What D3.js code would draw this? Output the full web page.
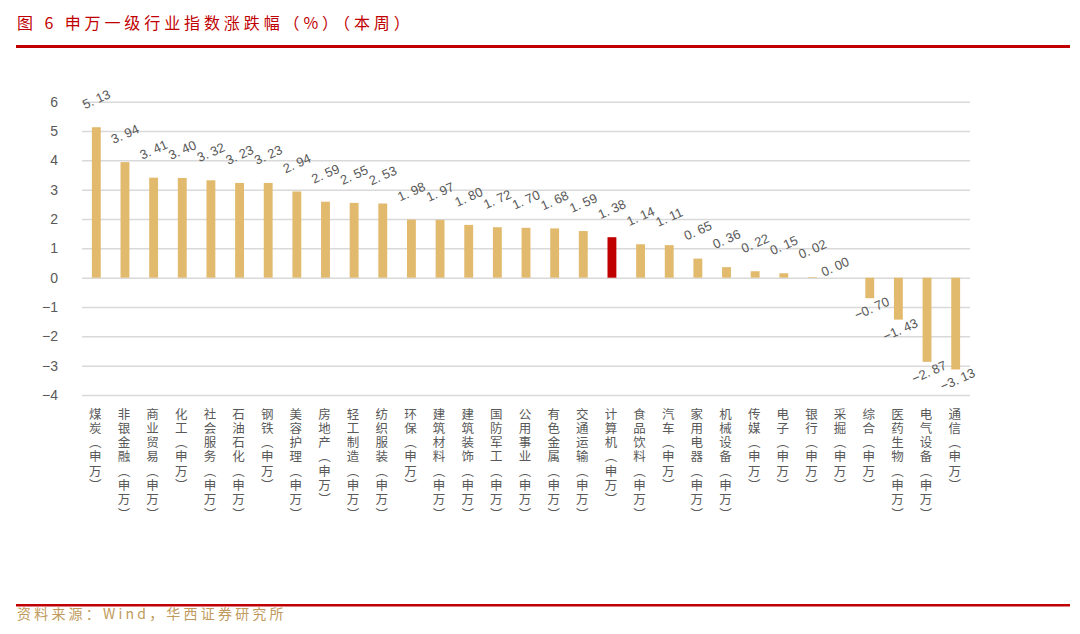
<!DOCTYPE html>
<html><head><meta charset="utf-8">
<script src="https://cdn.jsdelivr.net/npm/d3@7"></script>
<style>
html,body{margin:0;padding:0;background:#fff;}
svg{display:block;}
</style></head>
<body>
<svg id="c" width="1080" height="634"></svg>
<script>
const categories = ["煤炭","非银金融","商业贸易","化工","社会服务","石油石化","钢铁","美容护理","房地产","轻工制造","纺织服装","环保","建筑材料","建筑装饰","国防军工","公用事业","有色金属","交通运输","计算机","食品饮料","汽车","家用电器","机械设备","传媒","电子","银行","采掘","综合","医药生物","电气设备","通信"];
const values = [5.13,3.94,3.41,3.40,3.32,3.23,3.23,2.94,2.59,2.55,2.53,1.98,1.97,1.80,1.72,1.70,1.68,1.59,1.38,1.14,1.11,0.65,0.36,0.22,0.15,0.02,0.00,-0.70,-1.43,-2.87,-3.13];
const highlight = "计算机";
const yTicks = [-4,-3,-2,-1,0,1,2,3,4,5,6];
const suffix = "︵申万︶";
const titleText = "图 6 申万一级行业指数涨跌幅（%）（本周）";
const sourceText = "资料来源：Wind，华西证券研究所";

const svg = d3.select("#c");
const x = d3.scaleBand().domain(categories).range([82, 970]).paddingInner(0.69).paddingOuter(0.345);
const y = d3.scaleLinear().domain([-4, 6]).range([395, 101.7]);
const data = categories.map((c, i) => ({c, v: values[i]}));

// title
svg.append("text").attr("x", 17).attr("y", 29)
  .attr("font-family", "'Noto Sans CJK SC', sans-serif").attr("font-size", 16)
  .attr("letter-spacing", 3.9).attr("fill", "#C00000").text(titleText);
svg.append("line").attr("x1", 16).attr("x2", 1070).attr("y1", 46.5).attr("y2", 46.5)
  .attr("stroke", "#C00000").attr("stroke-width", 3);

// grid + y axis
const yAxis = d3.axisLeft(y).tickValues(yTicks).tickSize(-(970 - 82)).tickPadding(24)
  .tickFormat(d => d < 0 ? "\u2212" + Math.abs(d) : String(d));
const ga = svg.append("g").attr("transform", "translate(82,0)").call(yAxis);
ga.select(".domain").remove();
ga.selectAll(".tick line").attr("stroke", "#d9d9d9").attr("stroke-width", 1.5);
ga.selectAll(".tick text").attr("font-family", "'Liberation Sans', Arial, sans-serif")
  .attr("font-size", 14).attr("fill", "#595959");

// bars
svg.append("g").selectAll("rect").data(data).join("rect")
  .attr("x", d => x(d.c)).attr("width", x.bandwidth())
  .attr("y", d => y(Math.max(0, d.v))).attr("height", d => Math.abs(y(d.v) - y(0)))
  .attr("fill", d => d.c === highlight ? "#C00000" : "#E2BA6E");

// value labels
const fmt = v => { const s = Math.abs(v).toFixed(2).replace(".", ". "); return v < 0 ? "\u2212" + s : s; };
svg.append("g").selectAll("text").data(data).join("text")
  .attr("transform", d => {
    const cx = x(d.c) + x.bandwidth() / 2;
    let ly;
    if (d.v > 0) ly = y(d.v) - 28;
    else if (d.v === 0) ly = y(0) - 11;
    else ly = y(d.v) + 10;
    const lx = d.v === 0 ? cx - 6 : (d.v < 0 ? cx + 2 : cx);
    return `translate(${lx},${ly}) rotate(-24)`;
  })
  .attr("text-anchor", "middle").attr("dominant-baseline", "central")
  .attr("font-family", "'Liberation Sans', Arial, sans-serif").attr("font-size", 13)
  .attr("fill", "#595959").text(d => fmt(d.v));

// category labels (vertical, one glyph per line)
const cg = svg.append("g");
data.forEach(d => {
  const chars = Array.from(d.c + suffix);
  const cx = x(d.c) + x.bandwidth() / 2 - 1;
  chars.forEach((ch, j) => {
    cg.append("text").attr("x", cx).attr("y", 413 + j * 14.3)
      .attr("text-anchor", "middle").attr("dominant-baseline", "central")
      .attr("font-family", "'Noto Sans CJK SC', sans-serif").attr("font-size", 12.5)
      .attr("fill", "#595959").text(ch);
  });
});

// footer
svg.append("line").attr("x1", 16).attr("x2", 1070).attr("y1", 605.3).attr("y2", 605.3)
  .attr("stroke", "#C00000").attr("stroke-width", 2.5);
svg.append("text").attr("x", 17).attr("y", 618.5)
  .attr("font-family", "'Noto Sans CJK SC', sans-serif").attr("font-size", 14)
  .attr("letter-spacing", 3.2).attr("fill", "#BF9A5C").text(sourceText);
</script>
</body></html>
